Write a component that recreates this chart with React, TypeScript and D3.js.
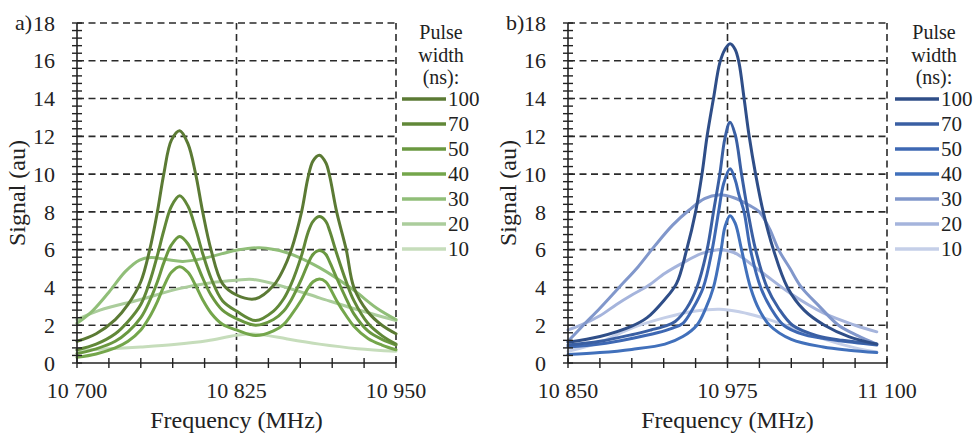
import React from "react";
import * as d3 from "d3";

// pulse widths shown in the legends (ns)
const pulseWidths = [100, 70, 50, 40, 30, 20, 10];

// panel a) — [frequency MHz, signal au]
const a100: [number, number][] = [[10700,1.15],[10715,1.55],[10730,2.3],[10740,3.1],[10750,4.3],[10757,6.0],[10763,8.0],[10768,10.0],[10774,11.8],[10780.5,12.3],[10787,11.6],[10793,10.0],[10798.5,8.0],[10805,6.0],[10814,4.2],[10825,3.6],[10840,3.4],[10854,4.1],[10862,5.0],[10868,6.0],[10876,8.0],[10881,9.8],[10885,10.7],[10890,11.0],[10895,10.6],[10898,9.9],[10903.5,8.0],[10911,6.0],[10917,4.0],[10928,2.7],[10939,2.0],[10950,1.55]];
const a70: [number, number][] = [[10700,0.7],[10715,1.0],[10730,1.55],[10740,2.2],[10750,3.1],[10757,4.3],[10763,5.7],[10768,7.0],[10774,8.3],[10780.5,8.85],[10787,8.3],[10793,7.1],[10798.5,5.8],[10805,4.5],[10814,3.3],[10825,2.75],[10840,2.25],[10854,2.75],[10862,3.4],[10868,4.2],[10876,5.7],[10881,6.9],[10885,7.5],[10890,7.75],[10895,7.5],[10898,7.0],[10903.5,5.8],[10911,4.3],[10917,3.3],[10928,2.1],[10939,1.45],[10950,1.0]];
const a50: [number, number][] = [[10700,0.5],[10715,0.75],[10730,1.15],[10740,1.65],[10750,2.4],[10757,3.3],[10763,4.3],[10768,5.3],[10774,6.25],[10780.5,6.7],[10787,6.3],[10793,5.4],[10798.5,4.5],[10805,3.6],[10814,2.8],[10825,2.35],[10840,2.0],[10854,2.3],[10862,2.75],[10868,3.35],[10876,4.45],[10881,5.25],[10885,5.75],[10890,5.95],[10895,5.75],[10898,5.35],[10903.5,4.5],[10911,3.4],[10917,2.6],[10928,1.7],[10939,1.25],[10950,0.95]];
const a40: [number, number][] = [[10700,0.3],[10715,0.48],[10730,0.8],[10740,1.15],[10750,1.75],[10757,2.45],[10763,3.25],[10768,4.05],[10774,4.8],[10780.5,5.1],[10787,4.8],[10793,4.1],[10798.5,3.35],[10805,2.65],[10814,2.05],[10825,1.75],[10840,1.45],[10854,1.7],[10862,2.05],[10868,2.55],[10876,3.35],[10881,3.95],[10885,4.3],[10890,4.45],[10895,4.3],[10898,4.0],[10903.5,3.3],[10911,2.5],[10917,1.95],[10928,1.3],[10939,0.95],[10950,0.7]];
const a30: [number, number][] = [[10700,2.1],[10712,2.75],[10725,3.75],[10738,4.85],[10749,5.45],[10758,5.58],[10770,5.48],[10783,5.38],[10800,5.55],[10825,5.97],[10843,6.1],[10864,5.85],[10890,5.05],[10916,3.9],[10935,2.9],[10950,2.3]];
const a20: [number, number][] = [[10700,2.3],[10718,2.8],[10749,3.35],[10781,3.95],[10805,4.25],[10825,4.38],[10838,4.42],[10864,4.0],[10890,3.45],[10916,2.9],[10950,2.25]];
const a10: [number, number][] = [[10700,0.65],[10725,0.75],[10750,0.85],[10776,0.98],[10802,1.18],[10825,1.47],[10838,1.53],[10850,1.45],[10864,1.28],[10890,1.0],[10920,0.76],[10950,0.62]];

// panel b)
const b100: [number, number][] = [[10850,1.1],[10875,1.4],[10900,1.95],[10912,2.4],[10925,3.3],[10935,4.2],[10943,6.0],[10950,8.0],[10955,10.0],[10959,12.0],[10964,14.0],[10969,15.9],[10973,16.6],[10977,16.9],[10981,16.6],[10984,15.9],[10988,14.0],[10992,12.0],[10997,10.0],[11003,8.0],[11011,6.0],[11022,4.0],[11035,2.8],[11051,2.0],[11070,1.4],[11092,1.0]];
const b70: [number, number][] = [[10850,0.95],[10875,1.15],[10900,1.5],[10915,1.75],[10926,1.95],[10934,2.2],[10943,2.9],[10951,4.0],[10959,6.0],[10964,8.0],[10969,10.0],[10973,11.9],[10977,12.75],[10981,12.1],[10986,10.0],[10991,8.0],[10997,6.0],[11006,4.0],[11015,2.9],[11026,2.0],[11045,1.45],[11065,1.2],[11092,1.0]];
const b50: [number, number][] = [[10850,0.85],[10875,1.0],[10900,1.3],[10920,1.6],[10932,1.85],[10940,2.1],[10948,2.9],[10956,4.0],[10963,6.0],[10968,8.0],[10972,9.5],[10977,10.28],[10981,9.7],[10984,8.9],[10988,8.0],[10993,6.0],[11001,4.0],[11009,2.9],[11019,2.0],[11035,1.5],[11060,1.2],[11092,0.95]];
const b40: [number, number][] = [[10850,0.45],[10875,0.55],[10900,0.72],[10926,1.0],[10940,1.4],[10951,2.0],[10958,2.9],[10964,4.0],[10970,6.0],[10973,7.2],[10977,7.8],[10981,7.4],[10986,6.0],[10993,4.0],[11000,2.8],[11008,2.0],[11025,1.25],[11050,0.85],[11070,0.68],[11092,0.55]];
const b30: [number, number][] = [[10850,1.15],[10862,2.0],[10875,2.9],[10890,4.0],[10905,5.1],[10918,6.2],[10932,7.3],[10945,8.1],[10957,8.7],[10968,8.9],[10980,8.75],[10992,8.35],[11000,8.0],[11008,7.1],[11015,6.0],[11024,5.0],[11033,4.0],[11047,3.0],[11062,2.0],[11077,1.45],[11092,1.0]];
const b20: [number, number][] = [[10850,1.75],[10860,2.0],[10875,2.5],[10888,3.1],[10900,3.6],[10913,4.1],[10926,4.75],[10940,5.3],[10955,5.8],[10969,6.0],[10980,5.85],[11000,4.9],[11025,3.65],[11050,2.65],[11075,2.0],[11092,1.65]];
const b10: [number, number][] = [[10850,0.62],[10875,1.1],[10900,1.85],[10926,2.4],[10950,2.75],[10969,2.85],[10985,2.7],[11000,2.45],[11025,1.9],[11050,1.28],[11075,0.8],[11092,0.58]];

const greens = ["#5b7a34", "#618838", "#6a9840", "#74a64b", "#90be78", "#abcd9c", "#c6ddbb"];
const blues = ["#2f4e88", "#3a5fa3", "#3e68b3", "#4170bb", "#8197cb", "#a5b4dc", "#c5cfe8"];

const xTicksA = [10700, 10825, 10950];
const xTicksB = [10850, 10975, 11100];

const FONT = "Liberation Serif";
const fmt = (v: number) => {
  const s = String(v);
  return s.slice(0, s.length - 3) + " " + s.slice(-3);
};

type PanelProps = {
  label: string;
  left: number;
  right: number;
  domain: [number, number];
  majors: number[];
  series: [number, number][][];
  colors: string[];
  legendX: number;
};

const Panel = ({ label, left, right, domain, majors, series, colors, legendX }: PanelProps) => {
  const top = 23;
  const bottom = 363;
  const x = d3.scaleLinear().domain(domain).range([left, right]);
  const y = d3.scaleLinear().domain([0, 18]).range([bottom, top]);
  const line = d3
    .line<[number, number]>()
    .x((d) => x(d[0]))
    .y((d) => y(d[1]))
    .curve(d3.curveCatmullRom.alpha(0.5));

  const minorY = d3.range(0, 45.5, 1).map((i) => i * 0.4);
  const minorX = d3.range(domain[0], domain[1] + 1, 25);
  const gridY = d3.range(2, 19, 2);
  const labelY = d3.range(0, 19, 2);

  return (
    <g fontFamily={FONT} fill="#222">
      {/* dashed grid */}
      {gridY.map((v) => (
        <line key={"g" + v} x1={left} x2={right} y1={y(v)} y2={y(v)} stroke="#2a2a2a" strokeWidth={1.6} strokeDasharray="7,4.5" />
      ))}
      {[majors[1], majors[2]].map((v) => (
        <line key={"gv" + v} x1={x(v)} x2={x(v)} y1={bottom} y2={top} stroke="#2a2a2a" strokeWidth={1.6} strokeDasharray="7,4.5" />
      ))}
      {/* curves, lightest at the back */}
      {series
        .map((s, i) => ({ s, i }))
        .reverse()
        .map(({ s, i }) => (
          <path key={"s" + i} d={line(s) || ""} fill="none" stroke={colors[i]} strokeWidth={3} strokeLinecap="round" />
        ))}
      {/* axes */}
      <line x1={left} x2={left} y1={bottom} y2={top} stroke="#222" strokeWidth={1.6} />
      <line x1={left} x2={right} y1={bottom} y2={bottom} stroke="#222" strokeWidth={1.6} />
      {minorY.map((v) => (
        <line key={"ty" + v} x1={left - 5} x2={left + 5} y1={y(v)} y2={y(v)} stroke="#222" strokeWidth={1.4} />
      ))}
      {minorX.map((v) => (
        <line key={"tx" + v} x1={x(v)} x2={x(v)} y1={bottom - 5} y2={bottom + 5} stroke="#222" strokeWidth={1.4} />
      ))}
      {labelY.map((v) => (
        <text key={"ly" + v} x={left - 22} y={y(v)} dy="0.35em" textAnchor="end" fontSize={22}>
          {v}
        </text>
      ))}
      {majors.map((v) => (
        <text key={"lx" + v} x={x(v)} y={398} textAnchor="middle" fontSize={22}>
          {fmt(v)}
        </text>
      ))}
      <text x={(left + right) / 2} y={428} textAnchor="middle" fontSize={24}>
        Frequency (MHz)
      </text>
      <text transform={`translate(${left - 52},${(top + bottom) / 2}) rotate(-90)`} textAnchor="middle" fontSize={24}>
        Signal (au)
      </text>
      <text x={left - 62} y={30} fontSize={22}>
        {label}
      </text>
      {/* legend */}
      <g>
        {["Pulse", "width", "(ns):"].map((t, i) => (
          <text key={t} x={legendX + 39} y={39 + i * 22.5} textAnchor="middle" fontSize={20}>
            {t}
          </text>
        ))}
        {pulseWidths.map((p, i) => (
          <g key={"lg" + p}>
            <line x1={legendX} x2={legendX + 44} y1={99 + i * 25} y2={99 + i * 25} stroke={colors[i]} strokeWidth={3.5} />
            <text x={legendX + 46} y={99 + i * 25} dy="0.35em" fontSize={21}>
              {p}
            </text>
          </g>
        ))}
      </g>
    </g>
  );
};

export default function App() {
  return (
    <svg width={975} height={434} style={{ position: "absolute", left: 0, top: 0, background: "#fff" }}>
      <rect width={975} height={434} fill="#fff" />
      <Panel
        label="a)"
        left={77}
        right={396}
        domain={[10700, 10950]}
        majors={xTicksA}
        series={[a100, a70, a50, a40, a30, a20, a10]}
        colors={greens}
        legendX={402}
      />
      <Panel
        label="b)"
        left={568}
        right={887}
        domain={[10850, 11100]}
        majors={xTicksB}
        series={[b100, b70, b50, b40, b30, b20, b10]}
        colors={blues}
        legendX={895}
      />
    </svg>
  );
}
